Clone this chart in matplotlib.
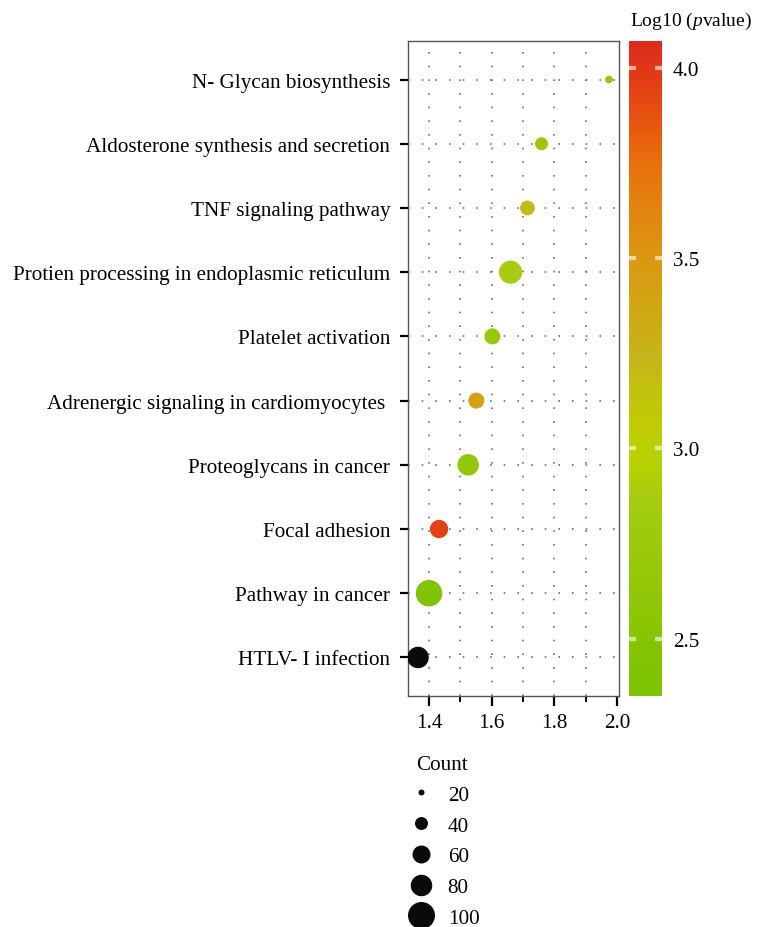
import numpy as np
import matplotlib
matplotlib.use("Agg")
import matplotlib.pyplot as plt
from matplotlib.colors import LinearSegmentedColormap, Normalize
from matplotlib.lines import Line2D
from matplotlib.cm import ScalarMappable

plt.rcParams['font.family'] = ['Liberation Serif', 'DejaVu Serif']
plt.rcParams['mathtext.fontset'] = 'custom'
plt.rcParams['mathtext.rm'] = 'Liberation Serif'
plt.rcParams['mathtext.it'] = 'Liberation Serif:italic'

# data, top to bottom
pathways = ["N- Glycan biosynthesis",
            "Aldosterone synthesis and secretion",
            "TNF signaling pathway",
            "Protien processing in endoplasmic reticulum",
            "Platelet activation",
            "Adrenergic signaling in cardiomyocytes ",
            "Proteoglycans in cancer",
            "Focal adhesion",
            "Pathway in cancer",
            "HTLV- I infection"]
rich_factor = [1.974, 1.759, 1.714, 1.660, 1.602, 1.551, 1.525, 1.432, 1.400, 1.365]
counts = [25, 40, 47, 86, 52, 52, 80, 62, 98, 80]
log_p = [2.70, 2.72, 3.20, 2.87, 2.70, 3.42, 2.63, 3.95, 2.40, np.nan]

size_breaks = [20, 40, 60, 80, 100]
cbar_ticks = [2.5, 3.0, 3.5, 4.0]
x_ticks = [1.4, 1.6, 1.8, 2.0]

# size scale: diameter in pixels at the legend breaks
size_px = [6, 13, 18, 21.5, 27]
px2pt = 0.72
fs = 15.2


def marker_area(c):
    d = np.interp(c, size_breaks, size_px) * px2pt
    return d ** 2


cmap = LinearSegmentedColormap.from_list("pv", [
    (0.00, "#7bc300"),
    (0.09, "#88c404"),
    (0.30, "#a6cc10"),
    (0.36, "#b8d200"),
    (0.42, "#c0cc04"),
    (0.52, "#c6b41a"),
    (0.64, "#d69e12"),
    (0.74, "#e28610"),
    (0.82, "#e86e0c"),
    (0.92, "#e44414"),
    (1.00, "#dc2a1c")])
cmap.set_bad("#0a0a0a")
norm = Normalize(vmin=2.35, vmax=4.07)

fig = plt.figure(figsize=(7.57, 9.28), dpi=100)
ax = fig.add_axes([408 / 757, 1 - 697 / 928, 211 / 757, 655 / 928])

ypos = np.arange(len(pathways))

# dotted grid
for x in [1.4, 1.5, 1.6, 1.7, 1.8, 1.9]:
    ax.axvline(x, color="#707070", lw=1.2, ls=(0, (1, 7.2)), zorder=0)
for y in ypos:
    ax.axhline(y, color="#707070", lw=1.2, ls=(0, (1, 7.2)), zorder=0)

ax.scatter(rich_factor, ypos, s=marker_area(np.array(counts)),
           c=log_p, cmap=cmap, norm=norm, plotnonfinite=True,
           edgecolors="none", zorder=3)

ax.set_xlim(1.333, 2.006)
ax.set_ylim(len(pathways) - 0.4, -0.6)
ax.set_yticks(ypos)
ax.set_yticklabels(pathways, fontsize=fs)
ax.set_xticks(x_ticks)
ax.set_xticklabels(["%.1f" % v for v in x_ticks], fontsize=fs)
ax.set_xticks([1.5, 1.7, 1.9], minor=True)
ax.tick_params(axis="y", length=5.8, width=1.6, pad=7, color="black")
ax.tick_params(axis="x", which="major", length=7, width=1.6, pad=5, color="black")
ax.tick_params(axis="x", which="minor", length=4, width=1.4, color="black")
for sp in ax.spines.values():
    sp.set_color("#555555")
    sp.set_linewidth(1.0)

# colour bar
cax = fig.add_axes([629 / 757, 1 - 697 / 928, 33 / 757, 655 / 928])
sm = ScalarMappable(norm=norm, cmap=cmap)
cb = fig.colorbar(sm, cax=cax)
cb.outline.set_visible(False)
cb.set_ticks(cbar_ticks)
cb.set_ticklabels(["%.1f" % v for v in cbar_ticks])
cax.tick_params(length=0, pad=8, labelsize=fs)
cax.hlines(cbar_ticks, 0, 0.2, colors="white", lw=3, alpha=0.6)
cax.hlines(cbar_ticks, 0.8, 1, colors="white", lw=3, alpha=0.6)
fig.text(630 / 757, 1 - 21 / 928, r"Log10 ($\mathit{p}$value)",
         fontsize=14, ha="left", va="center")

# size legend
handles = [Line2D([], [], marker="o", ls="none", color="#0a0a0a",
                  markeredgewidth=0,
                  markersize=np.interp(b, size_breaks, size_px) * px2pt)
           for b in size_breaks]
leg = fig.legend(handles, [str(b) for b in size_breaks], title="Count",
                 loc="upper left", bbox_to_anchor=(416 / 757, 1 - 756 / 928),
                 frameon=False, fontsize=fs, title_fontsize=fs,
                 handlelength=0.5, handletextpad=1.0, labelspacing=0.52,
                 borderaxespad=0, borderpad=0, alignment="left")

fig.savefig("out.png", dpi=100)
